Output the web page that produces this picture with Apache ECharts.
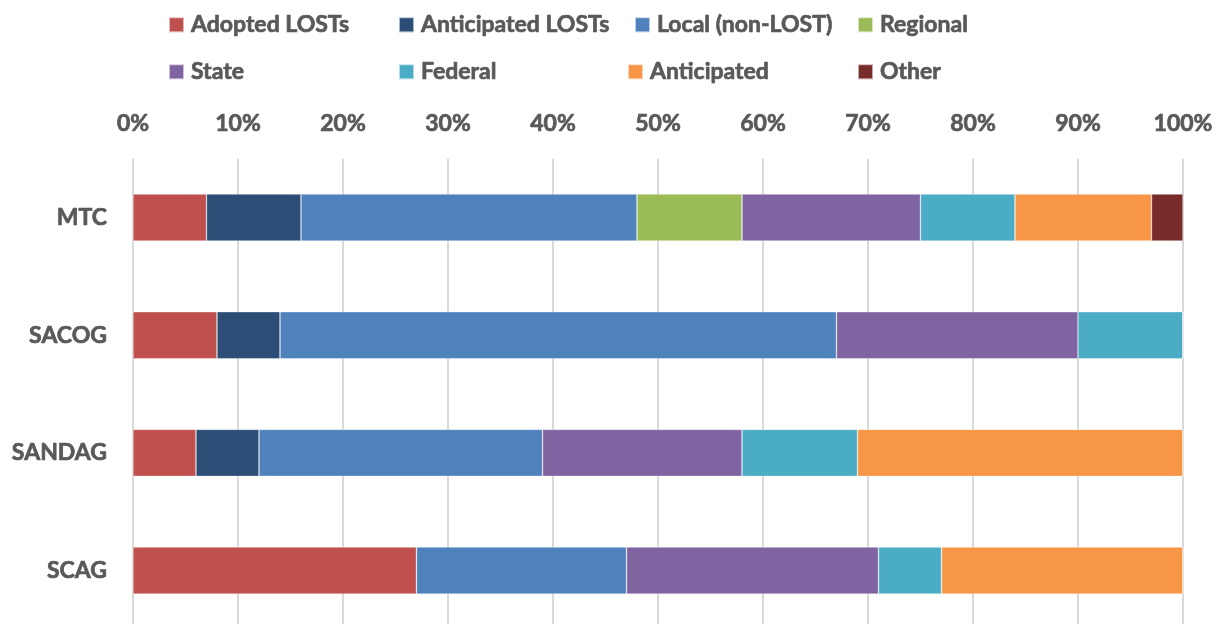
<!DOCTYPE html>
<html><head><meta charset="utf-8">
<script src="https://cdn.jsdelivr.net/npm/echarts@6/dist/echarts.min.js"></script>
<style>html,body{margin:0;padding:0;background:#fff}#c{width:1220px;height:624px}</style>
</head><body><div id="c"></div>
<script>
const categories = ['MTC', 'SACOG', 'SANDAG', 'SCAG'];
const seriesNames = ['Adopted LOSTs', 'Anticipated LOSTs', 'Local (non-LOST)', 'Regional', 'State', 'Federal', 'Anticipated', 'Other'];
const adoptedLOSTs     = [7, 8, 6, 27];
const anticipatedLOSTs = [9, 6, 6, 0];
const localNonLOST     = [32, 53, 27, 20];
const regional         = [10, 0, 0, 0];
const state            = [17, 23, 19, 24];
const federal          = [9, 10, 11, 6];
const anticipated      = [13, 0, 31, 23];
const other            = [3, 0, 0, 0];
const xTicks = [0, 10, 20, 30, 40, 50, 60, 70, 80, 90, 100];

const values = [adoptedLOSTs, anticipatedLOSTs, localNonLOST, regional, state, federal, anticipated, other];
const colors = ['#C0504D', '#2C4D75', '#4F81BD', '#9BBB59', '#8064A2', '#4BACC6', '#F79646', '#772C2A'];
const legendPos = [[168, 10], [398, 10], [634, 10], [857, 10], [168, 57], [398, 57], [627, 57], [857, 57]];
const font = 'Lato, "Liberation Sans", sans-serif';
const txt = { fontFamily: font, fontWeight: 'bold', fontSize: 23, color: '#595959', textBorderColor: '#595959', textBorderWidth: 0.7 };

const chart = echarts.init(document.getElementById('c'));
chart.setOption({
  animation: false,
  color: colors,
  legend: seriesNames.map((n, i) => ({
    data: [n], left: legendPos[i][0], top: legendPos[i][1],
    itemWidth: 15, itemHeight: 15, itemGap: 0, padding: [3, 0, 3, 0],
    icon: 'rect',
    textStyle: Object.assign({}, txt, { padding: [0, 0, 0, 2] })
  })),
  grid: { left: 133, right: 37, top: 158.7, height: 470.7, outerBoundsMode: 'none' },
  xAxis: {
    type: 'value', position: 'top', min: 0, max: 100, interval: 10,
    axisLine: { show: false }, axisTick: { show: false },
    splitLine: { lineStyle: { color: '#D9D9D9', width: 2 } },
    axisLabel: Object.assign({ formatter: v => xTicks.includes(v) ? v + '%' : '', margin: 24 }, txt)
  },
  yAxis: {
    type: 'category', data: categories, inverse: true,
    axisLine: { show: false }, axisTick: { show: false },
    axisLabel: Object.assign({ margin: 26 }, txt)
  },
  series: seriesNames.map((n, i) => ({
    name: n, type: 'bar', stack: 'total', barWidth: '40%',
    itemStyle: { color: colors[i], borderColor: 'rgba(255,255,255,0.6)', borderWidth: 0.6 },
    data: values[i]
  }))
});
</script></body></html>
